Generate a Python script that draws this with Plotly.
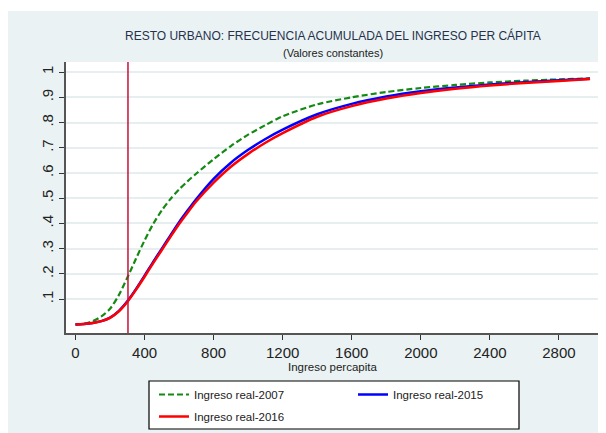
import plotly.graph_objects as go

# ---- data ----
ingreso = [0, 50, 100, 150, 200, 250, 300, 350, 400, 450, 500, 550, 600, 650, 700, 800, 900,
           1000, 1100, 1200, 1400, 1600, 1800, 2000, 2200, 2400, 2600, 2800, 2980]
cdf_2007 = [0.0, 0.003, 0.013, 0.032, 0.062, 0.115, 0.185, 0.26, 0.333, 0.398, 0.452,
            0.497, 0.535, 0.568, 0.598, 0.655, 0.707, 0.752, 0.79, 0.825, 0.872, 0.90,
            0.921, 0.937, 0.949, 0.959, 0.966, 0.971, 0.975]
cdf_2015 = [0.0, 0.002, 0.006, 0.013, 0.027, 0.053, 0.092, 0.14, 0.193, 0.248, 0.30,
            0.353, 0.405, 0.452, 0.497, 0.577, 0.641, 0.692, 0.735, 0.772, 0.833, 0.874,
            0.903, 0.924, 0.939, 0.951, 0.960, 0.968, 0.974]
cdf_2016 = [0.0, 0.002, 0.006, 0.013, 0.026, 0.051, 0.089, 0.137, 0.189, 0.243, 0.295,
            0.347, 0.398, 0.444, 0.488, 0.562, 0.625, 0.676, 0.72, 0.758, 0.823, 0.865,
            0.895, 0.917, 0.934, 0.947, 0.957, 0.965, 0.973]
linea_pobreza = 304

x_ticks = [0, 400, 800, 1200, 1600, 2000, 2400, 2800]
y_ticks = [0.1, 0.2, 0.3, 0.4, 0.5, 0.6, 0.7, 0.8, 0.9, 1.0]
y_ticktext = [".1", ".2", ".3", ".4", ".5", ".6", ".7", ".8", ".9", "1"]

titulo = "RESTO URBANO: FRECUENCIA ACUMULADA DEL INGRESO PER CÁPITA"
subtitulo = "(Valores constantes)"
x_titulo = "Ingreso percapita"

# ---- figure (page has an 8px body margin, so the figure is 598x425) ----
W, H = 598, 425
ML, MR, MT, MB = 58, 7, 54, 100
PW, PH = W - ML - MR, H - MT - MB
BG = "#EAF2F3"
FONT = "Liberation Sans, Arial, sans-serif"

def px_x(p):
    return (p - ML) / PW

def px_y(p):
    return (H - MB - p) / PH

fig = go.Figure()
fig.add_trace(go.Scatter(x=ingreso, y=cdf_2007, mode="lines", name="Ingreso real-2007",
                         legend="legend",
                         line=dict(color="#148A14", width=2.2, dash="6px,3px",
                                   shape="spline", smoothing=0.8)))
fig.add_trace(go.Scatter(x=ingreso, y=cdf_2015, mode="lines", name="Ingreso real-2015",
                         legend="legend",
                         line=dict(color="#0000FF", width=2.5, shape="spline", smoothing=0.8)))
fig.add_trace(go.Scatter(x=ingreso, y=cdf_2016, mode="lines", name="Ingreso real-2016",
                         legend="legend2",
                         line=dict(color="#FF0000", width=2.5, shape="spline", smoothing=0.8)))

fig.add_shape(type="line", xref="x", yref="paper", x0=linea_pobreza, x1=linea_pobreza,
              y0=0, y1=1, line=dict(color="#C8103A", width=1.5), layer="above")

# thin white strip at the top edge
fig.add_shape(type="rect", xref="paper", yref="paper", x0=px_x(0), x1=px_x(W),
              y0=px_y(3), y1=px_y(0), fillcolor="white", line_width=0, layer="below")
# legend frame
fig.add_shape(type="rect", xref="paper", yref="paper", x0=px_x(141), x1=px_x(511),
              y0=px_y(421), y1=px_y(373), fillcolor="white",
              line=dict(color="black", width=1.2), layer="below")

fig.add_annotation(text=titulo, xref="paper", yref="paper", x=0.5, y=px_y(28),
                   showarrow=False, font=dict(family=FONT, size=12, color="#26324d"),
                   xanchor="center", yanchor="middle")
fig.add_annotation(text=subtitulo, xref="paper", yref="paper", x=0.5, y=px_y(45),
                   showarrow=False, font=dict(family=FONT, size=11, color="#222"),
                   xanchor="center", yanchor="middle")
fig.add_annotation(text=x_titulo, xref="paper", yref="paper", x=0.5, y=px_y(359),
                   showarrow=False, font=dict(family=FONT, size=11.5, color="#222"),
                   xanchor="center", yanchor="middle")

leg_common = dict(orientation="h", xref="container", yref="container",
                  xanchor="left", yanchor="top", bgcolor="rgba(0,0,0,0)", borderwidth=0,
                  entrywidth=154, entrywidthmode="pixels",
                  font=dict(family=FONT, size=11.5, color="#222"), traceorder="normal")

fig.update_layout(
    width=W, height=H,
    margin=dict(l=ML, r=MR, t=MT, b=MB, autoexpand=False),
    paper_bgcolor=BG, plot_bgcolor="white",
    font=dict(family=FONT, color="#222"),
    showlegend=True,
    legend=dict(leg_common, x=146 / W, y=(H - 372) / H),
    legend2=dict(leg_common, x=146 / W, y=(H - 394) / H),
)
fig.update_xaxes(range=[-55, 3032], tickvals=x_ticks, ticks="outside", ticklen=5,
                 tickcolor="#333", tickwidth=1.2, showgrid=False, zeroline=False,
                 showline=True, linecolor="#555", linewidth=1.5, automargin=False,
                 tickfont=dict(family=FONT, size=15, color="#222"))
fig.update_yaxes(range=[-0.034, 1.04], tickvals=y_ticks, ticktext=y_ticktext,
                 tickangle=-90, ticks="outside", ticklen=5, tickcolor="#333", tickwidth=1.2,
                 showgrid=True, gridcolor="#E6EEF0", gridwidth=1.5, zeroline=False,
                 showline=True, linecolor="#555", linewidth=1.5, automargin=False,
                 tickfont=dict(family=FONT, size=15, color="#222"))

fig.write_html("out.html")
